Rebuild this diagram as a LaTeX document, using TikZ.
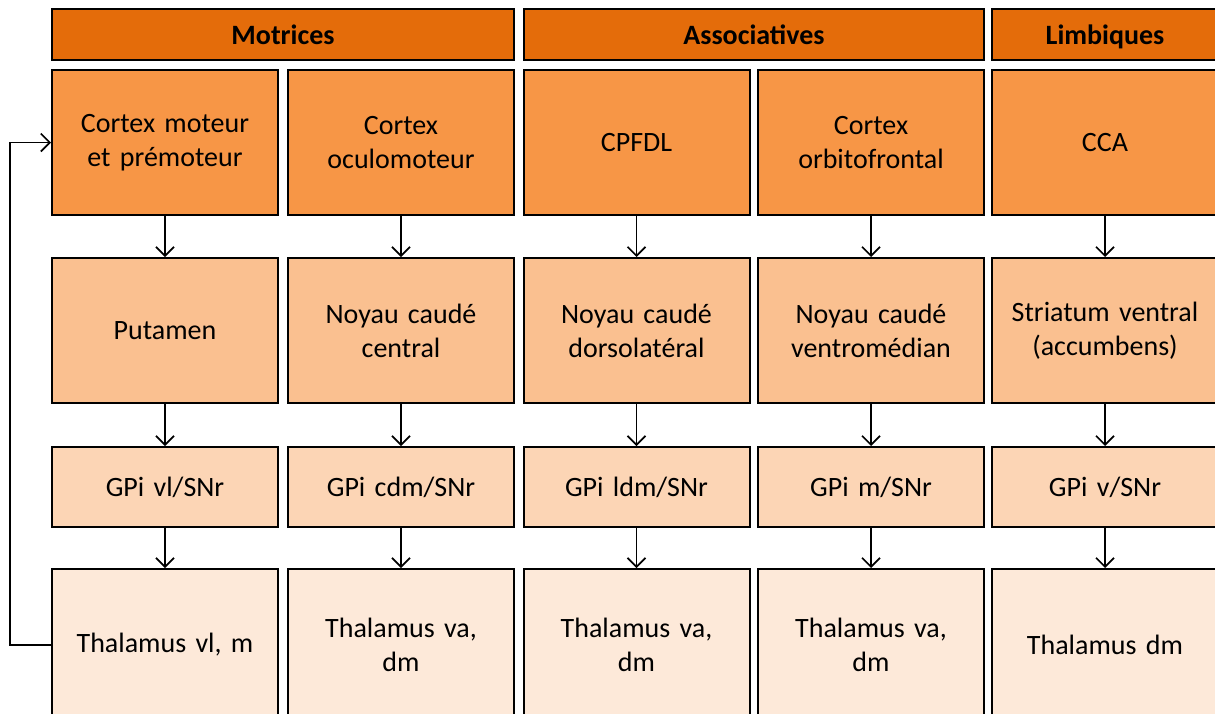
\documentclass[tikz,border=0pt]{standalone}
\usepackage{fontspec}
\setmainfont{Carlito}
\usetikzlibrary{arrows.meta}
\definecolor{headorange}{HTML}{E46C0A}
\definecolor{cortexorange}{HTML}{F79646}
\definecolor{striaorange}{HTML}{FAC090}
\definecolor{gpiorange}{HTML}{FCD5B5}
\definecolor{thalorange}{HTML}{FDE9D9}
\tikzstyle{box} = [rectangle, draw=black, line width=2pt, inner sep=0, minimum width=226pt, text width=220pt, align=center, font=\fontsize{28}{34}\selectfont]
\tikzstyle{head} = [box, fill=headorange, minimum height=51pt, text height=23pt, text depth=4pt, font=\fontsize{28}{34}\selectfont\bfseries]
\tikzstyle{cortex} = [box, fill=cortexorange, minimum height=145pt]
\tikzstyle{stria} = [box, fill=striaorange, minimum height=145pt]
\tikzstyle{gpi} = [box, fill=gpiorange, minimum height=80pt]
\tikzstyle{thal} = [box, fill=thalorange, minimum height=152pt]
\tikzstyle{arrow} = [line width=1.7pt, -{Straight Barb[length=9pt,width=18pt,line width=1.7pt]}]
\begin{document}
\begin{tikzpicture}[x=1pt,y=-1pt]
\useasboundingbox (0,0) rectangle (1215,713);
\clip (0,0) rectangle (1215,713);

% headers
\node[head, minimum width=462pt, text width=450pt] (motrices) at (283,34.5) {Motrices};
\node[head, minimum width=460pt, text width=450pt] (assoc) at (754,34.5) {Associatives};
\node[head] (limb) at (1105,34.5) {Limbiques};

% cortex
\node[cortex] (c1) at (165,142.5) {Cortex moteur\\et prémoteur};
\node[cortex] (c2) at (401,142.5) {Cortex\\oculomoteur};
\node[cortex] (c3) at (636.5,142.5) {CPFDL};
\node[cortex] (c4) at (871,142.5) {Cortex\\orbitofrontal};
\node[cortex] (c5) at (1105,142.5) {CCA};

% striatum
\node[stria] (s1) at (165,330.5) {Putamen};
\node[stria] (s2) at (401,330.5) {Noyau caudé\\central};
\node[stria] (s3) at (636.5,330.5) {Noyau caudé\\dorsolatéral};
\node[stria] (s4) at (871,330.5) {Noyau caudé\\ventromédian};
\node[stria] (s5) at (1105,330.5) {Striatum ventral\\(accumbens)};

% pallidum
\node[gpi] (g1) at (165,487) {GPi vl/SNr};
\node[gpi] (g2) at (401,487) {GPi cdm/SNr};
\node[gpi] (g3) at (636.5,487) {GPi ldm/SNr};
\node[gpi] (g4) at (871,487) {GPi m/SNr};
\node[gpi] (g5) at (1105,487) {GPi v/SNr};

% thalamus (cut by the lower edge)
\node[thal] (t1) at (165,645) {Thalamus vl, m};
\node[thal] (t2) at (401,645) {Thalamus va,\\dm};
\node[thal] (t3) at (636.5,645) {Thalamus va,\\dm};
\node[thal] (t4) at (871,645) {Thalamus va,\\dm};
\node[thal] (t5) at (1105,645) {Thalamus dm};

\foreach \i in {1,...,5}{
	\draw[arrow] (c\i.south) -- (s\i.north);
	\draw[arrow] (s\i.south) -- (g\i.north);
	\draw[arrow] (g\i.south) -- (t\i.north);
}
\draw[arrow] (t1.west) -- ++(-41,0) |- (c1.west);
\end{tikzpicture}
\end{document}
